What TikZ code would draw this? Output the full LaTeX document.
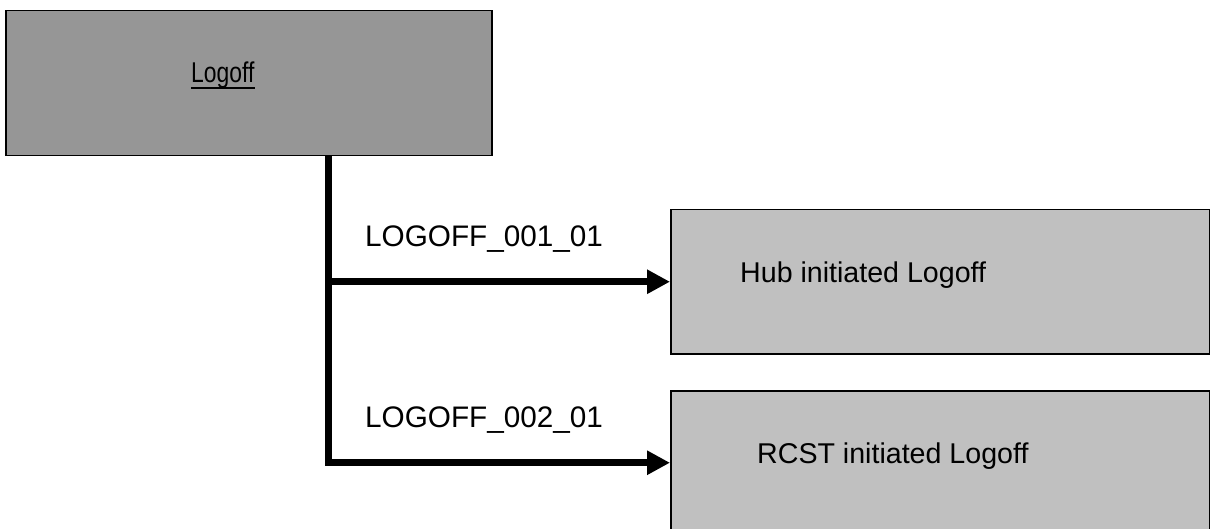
\documentclass[tikz,border=0pt]{standalone}
\usepackage{fontspec}
\setmainfont{Liberation Sans}
\usetikzlibrary{arrows.meta}
\definecolor{topgray}{RGB}{150,150,150}
\definecolor{subgray}{RGB}{192,192,192}
\begin{document}
\begin{tikzpicture}[x=1pt,y=-1pt,
  box/.style={draw=black, line width=1.5pt, rectangle, inner sep=0pt, anchor=north west},
  lbl/.style={inner sep=0pt, anchor=base west, font=\fontsize{28.6}{34}\selectfont},
  codelbl/.style={lbl, font=\fontsize{29.7}{35}\selectfont},
  conn/.style={line width=7pt, line join=miter, -{Triangle[length=23pt,width=23pt]}}]
\useasboundingbox[fill=white] (0,0) rectangle (1210,529);
\node[box, fill=topgray, minimum width=486pt, minimum height=145pt] (top) at (5,10) {};
\node[box, fill=subgray, minimum width=539pt, minimum height=144pt] (hub) at (670,209) {};
\node[box, fill=subgray, minimum width=539pt, minimum height=144pt] (rcst) at (670,390) {};
\node[lbl] (lg) at (191,83) {\scalebox{0.8}[1]{Logoff}};
\draw[line width=2.5pt] ([yshift=-5pt]lg.base west) -- ([yshift=-5pt]lg.base east);
\node[codelbl] (l1) at (365,247) {LOGOFF\_001\_01};
\node[codelbl] (l2) at (365,427) {LOGOFF\_002\_01};
\node[lbl] (t1) at (740,283) {Hub initiated Logoff};
\node[lbl] (t2) at (757,463) {RCST initiated Logoff};
\draw[conn] ([xshift=80pt]top.south) |- (rcst.west);
\draw[conn] ([xshift=80pt]top.south |- hub.west) -- (hub.west);
\end{tikzpicture}
\end{document}
